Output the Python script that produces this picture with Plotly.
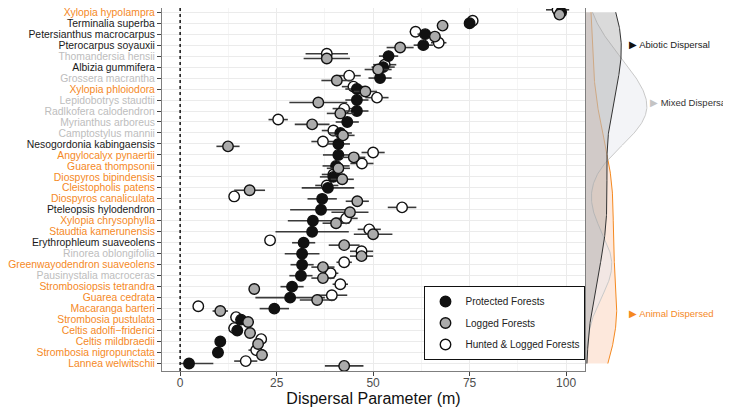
import numpy as np
import plotly.graph_objects as go

# species, top to bottom
species = ["Xylopia hypolampra", "Terminalia superba", "Petersianthus macrocarpus",
           "Pterocarpus soyauxii", "Thomandersia hensii", "Albizia gummifera",
           "Grossera macrantha", "Xylopia phloiodora", "Lepidobotrys staudtii",
           "Radlkofera calodendron", "Myrianthus arboreus", "Camptostylus mannii",
           "Nesogordonia kabingaensis", "Angylocalyx pynaertii", "Guarea thompsonii",
           "Diospyros bipindensis", "Cleistopholis patens", "Diospyros canaliculata",
           "Pteleopsis hylodendron", "Xylopia chrysophylla", "Staudtia kamerunensis",
           "Erythrophleum suaveolens", "Rinorea oblongifolia", "Greenwayodendron suaveolens",
           "Pausinystalia macroceras", "Strombosiopsis tetrandra", "Guarea cedrata",
           "Macaranga barteri", "Strombosia pustulata", "Celtis adolfi\u2212friderici",
           "Celtis mildbraedii", "Strombosia nigropunctata", "Lannea welwitschii"]

dispersal = ["animal", "abiotic", "abiotic", "abiotic", "mixed", "abiotic",
             "mixed", "animal", "mixed", "mixed", "mixed", "mixed",
             "abiotic", "animal", "animal", "animal", "animal", "animal",
             "abiotic", "animal", "animal", "abiotic", "mixed", "animal",
             "mixed", "animal", "animal", "animal", "animal", "animal",
             "animal", "animal", "animal"]

protected = [98.7, 75.0, 63.5, 63.0, 54.0, 52.6, 51.8, 45.8, 45.8, 45.8, 43.3, 41.5,
             41.0, 41.0, 40.4, 39.7, 38.3, 36.8, 36.5, 34.4, 34.2, 32.0, 31.6, 31.6,
             31.3, 29.0, 28.5, 24.4, 15.8, 14.8, 10.4, 9.8, 2.3]
protected_err = [1.5, 1, 2, 2.5, 2.5, 3, 3, 3, 3, 3, 3, 3,
                 3, 4, 3.5, 3.5, 6.8, 3.8, 8, 6.5, 9.5, 3, 4.5, 3,
                 3, 3, 9, 3.8, 1.5, 1.5, 1, 1.5, 6.3]

logged = [98.3, 68.0, 66.0, 57.0, 38.0, 51.3, 40.6, 48.0, 35.8, 41.5, 34.2, 42.2,
          12.4, 45.0, 41.0, 42.0, 18.0, 45.9, 44.0, 40.4, 50.0, 42.5, 47.0, 37.0,
          37.0, 19.2, 35.5, 10.4, 17.6, 18.1, 20.2, 21.2, 42.5]
logged_err = [1.5, 1, 1.5, 3.5, 6, 3.5, 4, 3, 7.5, 3.5, 4.5, 3,
              3, 3, 3, 3, 4, 3, 4.8, 3.5, 5, 4, 3, 3,
              3, 1, 4.5, 2, 1.5, 1.5, 1, 1.5, 5]

hunted = [97.8, 75.8, 61.0, 67.0, 38.0, 53.0, 43.8, 44.9, 51.0, 42.5, 25.4, 39.7,
          37.0, 50.0, 47.1, 39.7, 38.0, 14.0, 57.5, 43.0, 49.0, 23.3, 47.0, 42.5,
          39.0, 41.5, 39.3, 4.7, 14.5, 14.0, 21.0, 19.7, 17.0]
hunted_err = [3, 1, 1.5, 2, 5.5, 3, 3, 3, 3, 3, 2.5, 3,
              3, 3, 3, 3, 3, 0.5, 3.7, 3, 3, 0.5, 3, 2,
              2, 2, 4, 0.5, 1.5, 1.5, 1, 2, 3]

ORANGE = "#F5891F"
label_colors = {"animal": ORANGE, "abiotic": "#1a1a1a", "mixed": "#bdbdbd"}

rows = np.arange(1, len(species) + 1)
ticktext = ['<span style="color:%s">%s</span>' % (label_colors[d], s)
            for s, d in zip(species, dispersal)]
yrange = [33.683, 0.617]

fig = go.Figure()

# density of rows per dispersal mode (right strip)
def kde(pts, grid):
    pts = np.asarray(pts, float)
    n = len(pts)
    q75, q25 = np.percentile(pts, [75, 25])
    bw = 0.9 * min(pts.std(ddof=1), (q75 - q25) / 1.34) * n ** -0.2
    z = (grid[:, None] - pts[None, :]) / bw
    return np.exp(-0.5 * z ** 2).sum(axis=1) / (n * bw * np.sqrt(2 * np.pi))

grid = np.linspace(1, len(species), 300)
dens_style = {
    "animal": dict(fill="rgba(244,140,80,0.2)", line=ORANGE),
    "mixed": dict(fill="rgba(228,230,238,0.45)", line="#c9c9c9"),
    "abiotic": dict(fill="rgba(150,150,150,0.35)", line="#333333"),
}
for mode in ["animal", "mixed", "abiotic"]:
    pts = [r for r, d in zip(rows, dispersal) if d == mode]
    fig.add_trace(go.Scatter(x=kde(pts, grid), y=grid, mode="lines", fill="tozerox",
                             fillcolor=dens_style[mode]["fill"],
                             line=dict(color=dens_style[mode]["line"], width=1),
                             xaxis="x2", yaxis="y2", showlegend=False, hoverinfo="skip"))

# points with error bars
series = [
    ("Hunted & Logged Forests", hunted, hunted_err, "white", -0.22, 3),
    ("Protected Forests", protected, protected_err, "#111111", 0.0, 1),
    ("Logged Forests", logged, logged_err, "#ababab", 0.22, 2),
]
for name, vals, err, col, off, rank in series:
    vals = np.array(vals)
    err = np.array(err, float)
    fig.add_trace(go.Scatter(
        x=vals, y=rows + off, mode="markers", name=name, legendrank=rank,
        legendgroup=name, cliponaxis=False,
        marker=dict(size=10.5, color=col, line=dict(color="#111111", width=1.4)),
        error_x=dict(type="data", array=err, arrayminus=np.minimum(err, vals),
                     color="#3a3a3a", thickness=1.6, width=0),
    ))

fig.add_shape(type="line", x0=0, x1=0, xref="x", y0=0, y1=1, yref="paper",
              line=dict(color="#111111", width=1.5, dash="dot"))

notes = [("Abiotic Dispersal", "#111111", "#222222", 0.8190, "left", 3.9),
         ("Mixed Dispersal", "#c4c4c4", "#333333", 0.9965, "right", 9.2),
         ("Animal Dispersed", ORANGE, ORANGE, 0.8190, "left", 28.4)]
for txt, tri, tc, xp, anchor, yr in notes:
    fig.add_annotation(x=xp, y=yr, xref="paper", yref="y2", xanchor=anchor,
                       showarrow=False, borderpad=0,
                       text='<span style="color:%s">\u25B6</span> <span style="color:%s">%s</span>' % (tri, tc, txt),
                       font=dict(size=9.5, family="Liberation Sans, Arial"))

# the page body adds 8px around the plot, so the figure is 8px smaller than the window
fig.update_layout(
    width=723, height=402,
    margin=dict(l=154, r=0, t=0, b=39, autoexpand=False),
    paper_bgcolor="white", plot_bgcolor="white",
    font=dict(family="Liberation Sans, Arial, sans-serif", color="#222222"),
    xaxis=dict(domain=[0, 0.7434], range=[-4.7, 104.9], tickvals=[0, 25, 50, 75, 100],
               automargin=False, ticklabelstandoff=-3,
               ticks="outside", ticklen=4, tickcolor="#444444", tickwidth=1,
               tickfont=dict(size=12, color="#4d4d4d"),
               showline=True, linecolor="#7f7f7f", linewidth=1, mirror=True,
               showgrid=True, gridcolor="#ebebeb", gridwidth=1, zeroline=False,
               minor=dict(tickvals=[12.5, 37.5, 62.5, 87.5], showgrid=True,
                          gridcolor="#f5f5f5", gridwidth=1),
               title=dict(text="Dispersal Parameter (m)", font=dict(size=16, color="#111111"),
                          standoff=0)),
    yaxis=dict(range=yrange, tickvals=list(rows), ticktext=ticktext,
               automargin=False, ticklabeloverflow="allow",
               ticks="outside", ticklen=4, tickcolor="#444444", tickwidth=1,
               tickfont=dict(size=10.4),
               showline=True, linecolor="#7f7f7f", linewidth=1, mirror=True,
               showgrid=True, gridcolor="#ebebeb", gridwidth=1, zeroline=False),
    xaxis2=dict(domain=[0.7452, 1], range=[0, 0.19], visible=False, anchor="y2"),
    yaxis2=dict(range=yrange, visible=False, anchor="x2", showgrid=False),
    legend=dict(x=0.6028, y=0.234, xanchor="center", yanchor="top",
                bgcolor="white", bordercolor="#111111", borderwidth=1,
                font=dict(size=10, color="#222222"), tracegroupgap=2.5),
)

fig.write_html("out.html")
